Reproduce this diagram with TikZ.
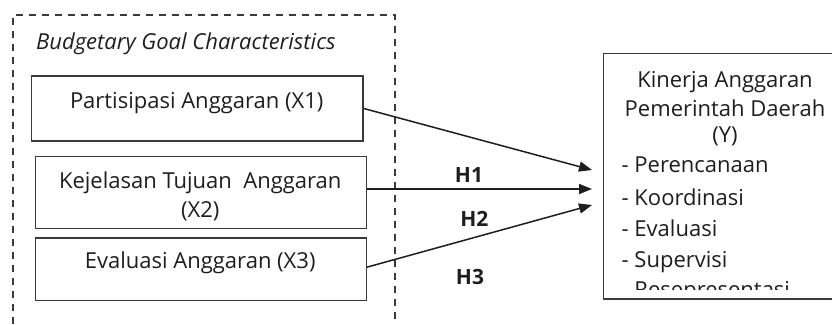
\documentclass[tikz,border=0pt]{standalone}
\usepackage{fontspec}
\setmainfont{Open Sans}
\usetikzlibrary{arrows.meta,calc}
\definecolor{ink}{HTML}{1E1E1E}
\definecolor{frame}{HTML}{3A3A3A}
\begin{document}
\begin{tikzpicture}[x=1pt,y=-1pt,
  box/.style={draw=frame, line width=1.3pt, inner sep=0pt, rectangle, anchor=north west},
  txt/.style={font=\fontsize{22}{30}\selectfont, text=ink, inner sep=0pt, anchor=base},
  ltxt/.style={txt, anchor=base west},
  hyp/.style={font=\fontsize{21}{25}\selectfont\bfseries, text=ink, inner sep=0pt, anchor=base},
  arr/.style={draw=ink, line width=1.5pt, -{Triangle[length=13pt,width=10pt]}},
  group/.style={draw=frame, line width=2pt, dash pattern=on 7pt off 6pt}]
\useasboundingbox (0,0) rectangle (832,324);
\clip (0,0) rectangle (832,324);
\fill[white] (0,0) rectangle (832,324);

% dashed group (open at the bottom)
\draw[group] (12.7,324) -- (12.7,15) -- (395,15) -- (395,324);
\node[font=\fontsize{22}{26}\selectfont\itshape, text=ink, inner sep=0pt, anchor=base west] (title) at (36,49.3) {Budgetary Goal Characteristics};

% independent variables
\node[box, minimum width=331.3pt, minimum height=65pt] (x1) at (31,75.3) {};
\node[txt] (x1t) at (196.7,108.3) {Partisipasi Anggaran (X1)};

\node[box, minimum width=331pt, minimum height=71.7pt] (x2) at (34.7,156) {};
\node[txt] (x2t) at (200.2,188.3) {Kejelasan Tujuan\ \ Anggaran};
\node[txt] (x2u) at (200.2,217) {(X2)};

\node[box, minimum width=331pt, minimum height=62.4pt] (x3) at (34.7,237.3) {};
\node[txt] (x3t) at (200.2,268) {Evaluasi Anggaran (X3)};

% dependent variable
\node[box, minimum width=260pt, minimum height=245.6pt] (y) at (603,52.7) {};
\node[txt] (y1) at (725,87) {Kinerja Anggaran};
\node[txt] (y2) at (725,116.7) {Pemerintah Daerah};
\node[txt] (y3) at (725,142.7) {(Y)};
\node[ltxt] (y4) at (621.5,172.5) {- Perencanaan};
\node[ltxt] (y5) at (621.5,205) {- Koordinasi};
\node[ltxt] (y6) at (621.5,236) {- Evaluasi};
\node[ltxt] (y7) at (621.5,267) {- Supervisi};
\begin{scope}
  \clip (600,52) rectangle (832,289.5);
  \node[ltxt] (y8) at (621.5,297.5) {- Resepresentasi};
\end{scope}

% arrows
\coordinate (t1) at (592,170);
\coordinate (t2) at (592,189);
\coordinate (t3) at (592,205);
\draw[arr] (x1.east) -- (t1);
\draw[arr] (x2.east |- t2) -- (t2);
\draw[arr] ($(x3.east)+(0,-2)$) -- (t3);

\node[hyp] (h1) at (469,182.7) {H1};
\node[hyp] (h2) at (474.3,226.7) {H2};
\node[hyp] (h3) at (470,284.3) {H3};
\end{tikzpicture}
\end{document}
